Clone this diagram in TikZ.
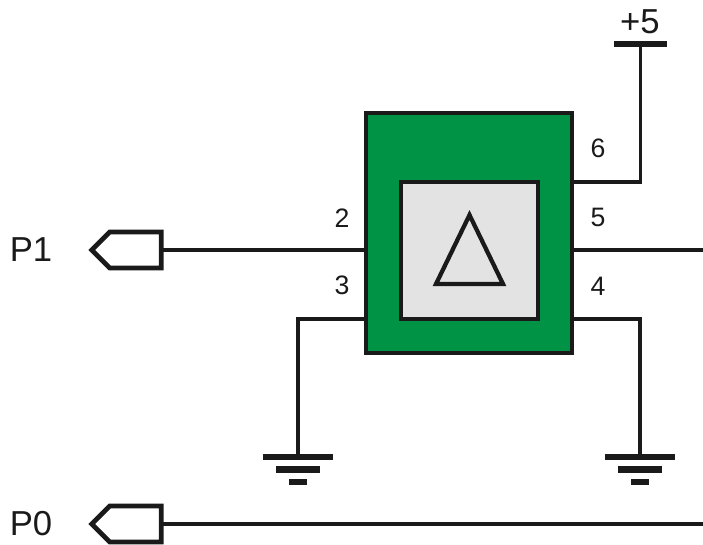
\documentclass[tikz,border=0pt]{standalone}
\usepackage{fontspec}
\setmainfont{Liberation Sans}
\usepackage{tikz}
\usetikzlibrary{shapes.symbols}
\definecolor{chipgreen}{HTML}{009245}
\definecolor{coregrey}{HTML}{E3E3E3}
\definecolor{ink}{HTML}{1A1A1A}
\tikzset{
    wire/.style={draw=ink,line width=2.8pt},
    chipbox/.style={rectangle,draw=ink,line width=3.4pt,inner sep=0pt,outer sep=0pt},
    port/.style={signal,signal to=west,signal from=nowhere,draw=ink,fill=white,line width=3.6pt,
        inner sep=0pt,outer sep=0pt,minimum width=52pt,minimum height=27pt},
    bar/.style={rectangle,fill=ink,inner sep=0pt,outer sep=0pt,minimum height=4.8pt},
    pinlabel/.style={text=ink,font=\fontsize{20}{23}\selectfont},
    netlabel/.style={text=ink,font=\fontsize{26}{30}\selectfont}
}
\begin{document}
\begin{tikzpicture}[x=0.75pt,y=-0.75pt]
\useasboundingbox (0,0) rectangle (703,545);
% chip
\node[chipbox,fill=chipgreen,minimum width=154.5pt,minimum height=180pt] (chip) at (469,233) {};
\node[chipbox,fill=coregrey,minimum width=102.75pt,minimum height=102.75pt] (core) at (469.5,250.5) {};
\draw[draw=ink,line width=3.2pt] (436,284) -- (469.5,215) -- (503,284) -- cycle;
% ports
\node[port] (p1) at (135.5,250) {};
\node[port] (p0) at (135.5,524) {};
\node[netlabel] (p1label) at (31,250) {P1};
\node[netlabel] (p0label) at (31,524) {P0};
% supply and grounds
\node[bar,minimum width=39.75pt] (vcc) at (640.5,44) {};
\node[netlabel] (vcclabel) at (640,22) {+5};
\node[bar,minimum width=52.5pt] (gnda) at (298,457) {};
\node[bar,minimum width=33pt] (gndab) at (298,469.5) {};
\node[bar,minimum width=13.5pt] (gndac) at (298,482) {};
\node[bar,minimum width=52.5pt] (gndb) at (640,457) {};
\node[bar,minimum width=33pt] (gndbb) at (640,469.5) {};
\node[bar,minimum width=13.5pt] (gndbc) at (640,482) {};
% free ends
\coordinate (out5) at (703,250);
\coordinate (out0) at (703,524);
% wires
\draw[wire] (p1.east) -- (chip.west |- p1);
\draw[wire] (chip.west |- core.south) -| (gnda);
\draw[wire] (chip.east |- core.north) -| (vcc);
\draw[wire] (chip.east |- out5) -- (out5);
\draw[wire] (chip.east |- core.south) -| (gndb);
\draw[wire] (p0.east) -- (out0);
% pin numbers
\node[pinlabel] (pin2) at (342,218) {2};
\node[pinlabel] (pin3) at (342,285) {3};
\node[pinlabel] (pin6) at (598,148) {6};
\node[pinlabel] (pin5) at (598,217) {5};
\node[pinlabel] (pin4) at (598,286) {4};
\end{tikzpicture}
\end{document}
